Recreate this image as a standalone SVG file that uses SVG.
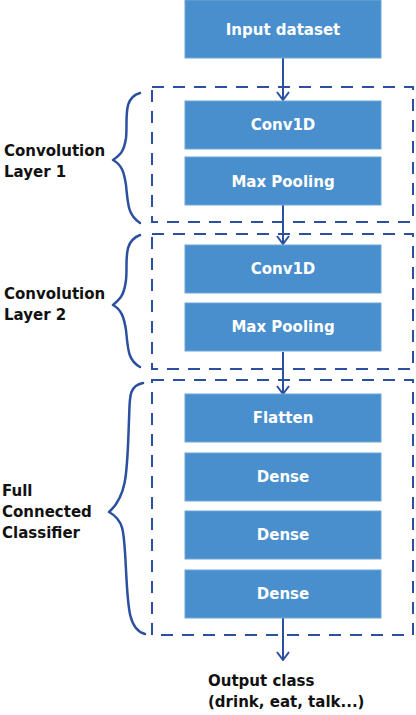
<svg xmlns="http://www.w3.org/2000/svg" width="416" height="715" viewBox="0 0 416 715">
<style>
.box{fill:#4A8FCD;stroke:#6FA6D8;stroke-width:1}
.bt{font-family:"DejaVu Sans",sans-serif;font-weight:bold;font-size:15px;fill:#fff;text-anchor:middle}
.lab{font-family:"DejaVu Sans",sans-serif;font-weight:bold;font-size:15px;fill:#111}
.grp{fill:none;stroke:#2C50A0;stroke-width:2;stroke-dasharray:12 9}
.br{fill:none;stroke:#2C50A0;stroke-width:2.5;stroke-linecap:round;stroke-linejoin:round}
.ar{fill:none;stroke:#2C50A0;stroke-width:2}
</style>
<defs>
<marker id="v" viewBox="0 0 10 14" refX="9" refY="7" markerWidth="10" markerHeight="14" markerUnits="userSpaceOnUse" orient="auto">
<path d="M1,1 L9,7 L1,13" fill="none" stroke="#2C50A0" stroke-width="2"/>
</marker>
</defs>
<g id="groups">
<rect class="grp" x="152" y="87" width="261" height="135"/>
<rect class="grp" x="152" y="234" width="261" height="135"/>
<rect class="grp" x="152" y="380" width="261" height="255"/>
</g>
<g id="braces">
<path class="br" d="M140,93 C122,98 128,120 126,138 C124,152 120,155 113,160 C122,165 124,172 126,185 C128,205 128,215 140,223"/>
<path class="br" d="M140,235 C122,242 128,262 126,280 C124,296 120,299 113,305 C122,310 124,318 126,330 C128,350 128,360 140,367"/>
<path class="br" d="M143,383 C128,386 130,398 129,420 C127,470 128,495 109,512 C124,520 124,530 126,570 C128,605 128,630 145,634"/>
</g>
<g id="connectors">
<line class="ar" x1="283" y1="58" x2="283" y2="100" marker-end="url(#v)"/>
<line class="ar" x1="283" y1="205" x2="283" y2="244" marker-end="url(#v)"/>
<line class="ar" x1="283" y1="352" x2="283" y2="394" marker-end="url(#v)"/>
<line class="ar" x1="283" y1="618" x2="283" y2="660" marker-end="url(#v)"/>
</g>
<g id="n-input"><rect class="box" x="185" y="0" width="196" height="58"/><text class="bt" x="283" y="35">Input dataset</text></g>
<g id="n-conv1"><rect class="box" x="185" y="101" width="196" height="48"/><text class="bt" x="283" y="130">Conv1D</text></g>
<g id="n-pool1"><rect class="box" x="185" y="157" width="196" height="48"/><text class="bt" x="283" y="187">Max Pooling</text></g>
<g id="n-conv2"><rect class="box" x="185" y="245" width="196" height="48"/><text class="bt" x="283" y="274">Conv1D</text></g>
<g id="n-pool2"><rect class="box" x="185" y="303" width="196" height="48"/><text class="bt" x="283" y="332">Max Pooling</text></g>
<g id="n-flatten"><rect class="box" x="185" y="394" width="196" height="48"/><text class="bt" x="283" y="423">Flatten</text></g>
<g id="n-dense1"><rect class="box" x="185" y="453" width="196" height="48"/><text class="bt" x="283" y="482">Dense</text></g>
<g id="n-dense2"><rect class="box" x="185" y="511" width="196" height="48"/><text class="bt" x="283" y="540">Dense</text></g>
<g id="n-dense3"><rect class="box" x="185" y="570" width="196" height="48"/><text class="bt" x="283" y="599">Dense</text></g>
<g id="labels">
<text class="lab" x="4" y="156">Convolution</text>
<text class="lab" x="4" y="177">Layer 1</text>
<text class="lab" x="4" y="299">Convolution</text>
<text class="lab" x="4" y="320">Layer 2</text>
<text class="lab" x="2" y="496">Full</text>
<text class="lab" x="2" y="517">Connected</text>
<text class="lab" x="2" y="538">Classifier</text>
</g>
<g id="n-output">
<text class="lab" x="208" y="686">Output class</text>
<text class="lab" x="208" y="707">(drink, eat, talk...)</text>
</g>
</svg>
